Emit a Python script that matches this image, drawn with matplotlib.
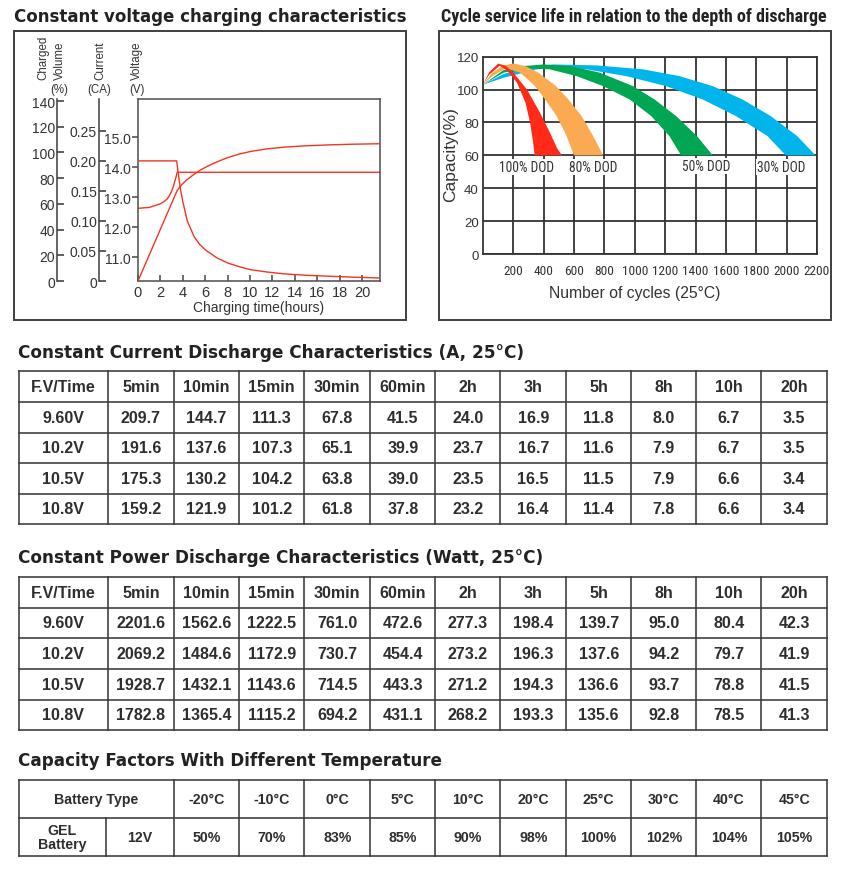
import numpy as np
import matplotlib
matplotlib.use("Agg")
import matplotlib.pyplot as plt
from matplotlib.patches import Rectangle
from matplotlib import font_manager

# ---------------- data ----------------
# Constant voltage charging characteristics
t_voltage = [0, 1.0, 2.0, 2.3, 2.6, 2.8, 3.0, 3.15, 3.3, 3.4, 3.5, 21.6]
charge_voltage = [12.63, 12.66, 12.78, 12.85, 12.94, 13.05, 13.2, 13.35, 13.55, 13.68, 13.83, 13.83]

t_current = [0, 3.45, 3.6, 3.8, 4.0, 4.4, 5.0, 5.5, 6.0, 7.0, 8.0, 9.0, 10.0, 11.5, 13.0, 15.0, 17.0, 19.0, 21.6]
charge_current = [0.20, 0.20, 0.178, 0.152, 0.132, 0.100, 0.074, 0.061, 0.052, 0.039, 0.030, 0.024,
                  0.019, 0.015, 0.012, 0.0095, 0.008, 0.0065, 0.005]

t_volume = [0, 3.5, 3.9, 4.4, 5.0, 5.6, 6.3, 7.0, 8.0, 9.0, 10.0, 11.5, 13.0, 15.0, 17.0, 19.0, 21.6]
charged_volume = [0, 70.5, 75, 79, 83, 86.5, 89.7, 92.5, 96, 98.7, 100.7, 102.8, 104.1, 105.2, 105.9, 106.4, 106.8]

hour_ticks = list(range(0, 21, 2))
volt_ticks = [11.0, 12.0, 13.0, 14.0, 15.0]
curr_ticks = [0, 0.05, 0.10, 0.15, 0.20, 0.25]
vol_ticks = [0, 20, 40, 60, 80, 100, 120, 140]
conditions = ["1. Discharge:100%", "2. Charge voltage:2.30V/cell",
              "3. Charge current:0.20CA", "4. Temperature:25\u2103"]

# Cycle life vs depth of discharge (bands: outer edge and inner edge)
red_outer_cycles = [0, 40, 100, 150, 200, 290, 375, 440, 490, 520]
red_outer_cap = [103, 110.5, 115.8, 114.5, 110.3, 100, 86, 74, 64, 60]
red_inner_cycles = [0, 40, 110, 160, 225, 280, 310, 330, 340]
red_inner_cap = [103, 109, 114.5, 111.5, 104, 92, 80, 68, 60]

orange_outer_cycles = [0, 60, 130, 200, 278, 365, 481, 562, 649, 726, 791]
orange_outer_cap = [103, 110, 114.5, 115.9, 114.3, 110.3, 102.1, 94, 83.9, 71.7, 60]
orange_inner_cycles = [0, 60, 150, 245, 343, 409, 485, 551, 599]
orange_inner_cap = [103, 108, 113, 110.3, 102.1, 94, 83.9, 71.7, 60]

green_outer_cycles = [0, 136, 267, 398, 573, 769, 988, 1130, 1272, 1410, 1513]
green_outer_cap = [103, 111.9, 114.3, 115.3, 114.3, 110.3, 102.1, 94, 83.9, 71.7, 60]
green_inner_cycles = [0, 136, 289, 441, 616, 791, 966, 1108, 1228, 1305]
green_inner_cap = [103, 110.3, 112.9, 112.3, 108.2, 102.1, 94, 83.9, 71.7, 60]

blue_outer_cycles = [0, 136, 300, 463, 748, 1054, 1294, 1513, 1709, 1895, 2070, 2190]
blue_outer_cap = [103, 109.5, 113.5, 115.3, 114.7, 112.3, 108.2, 102.1, 94, 83.9, 71.7, 60]
blue_inner_cycles = [0, 136, 354, 463, 682, 944, 1206, 1447, 1666, 1874, 1994]
blue_inner_cap = [103, 107.2, 112.3, 113.3, 112.3, 108.2, 102.1, 94, 83.9, 71.7, 60]

dod_labels = ["100% DOD", "80% DOD", "50% DOD", "30% DOD"]
dod_label_cycles = [289, 726, 1469, 1961]
dod_label_cap = [52.8, 52.8, 53.4, 52.8]
cycle_ticks = list(range(200, 2201, 200))
capacity_ticks = list(range(0, 121, 20))

# Tables
time_headers = ["F.V/Time", "5min", "10min", "15min", "30min", "60min", "2h", "3h", "5h", "8h", "10h", "20h"]
final_voltages = ["9.60V", "10.2V", "10.5V", "10.8V"]
current_9v60 = [209.7, 144.7, 111.3, 67.8, 41.5, 24.0, 16.9, 11.8, 8.0, 6.7, 3.5]
current_10v2 = [191.6, 137.6, 107.3, 65.1, 39.9, 23.7, 16.7, 11.6, 7.9, 6.7, 3.5]
current_10v5 = [175.3, 130.2, 104.2, 63.8, 39.0, 23.5, 16.5, 11.5, 7.9, 6.6, 3.4]
current_10v8 = [159.2, 121.9, 101.2, 61.8, 37.8, 23.2, 16.4, 11.4, 7.8, 6.6, 3.4]
power_9v60 = [2201.6, 1562.6, 1222.5, 761.0, 472.6, 277.3, 198.4, 139.7, 95.0, 80.4, 42.3]
power_10v2 = [2069.2, 1484.6, 1172.9, 730.7, 454.4, 273.2, 196.3, 137.6, 94.2, 79.7, 41.9]
power_10v5 = [1928.7, 1432.1, 1143.6, 714.5, 443.3, 271.2, 194.3, 136.6, 93.7, 78.8, 41.5]
power_10v8 = [1782.8, 1365.4, 1115.2, 694.2, 431.1, 268.2, 193.3, 135.6, 92.8, 78.5, 41.3]
temperatures = [-20, -10, 0, 5, 10, 20, 25, 30, 40, 45]
capacity_factors = [50, 70, 83, 85, 90, 98, 100, 102, 104, 105]

# ---------------- figure ----------------
W, H = 845, 870
fig = plt.figure(figsize=(W / 100, H / 100), dpi=100)
SANS = ["Liberation Sans", "DejaVu Sans"]
HEAVY = ["DejaVu Sans"]
installed = {f.name for f in font_manager.fontManager.ttflist}
narrow_found = [n for n in ["Liberation Sans Narrow", "Roboto Condensed", "Open Sans Condensed",
                            "DejaVu Sans Condensed"] if n in installed]
NARROW = narrow_found[:1] + ["Liberation Sans", "DejaVu Sans"]
RED = "#F53420"
DARK = "#333333"
PX = 72 / 100  # points per pixel


def frect(x0, y0, x1, y1):
    return [x0 / W, 1 - y1 / H, (x1 - x0) / W, (y1 - y0) / H]


ov = fig.add_axes([0, 0, 1, 1])
ov.set_xlim(0, W)
ov.set_ylim(H, 0)
ov.axis("off")

renderer = fig.canvas.get_renderer()


def text_width(s, **kw):
    t = ov.text(0, 0, s, **kw)
    w = t.get_window_extent(renderer).width
    t.remove()
    return w


def fit_size(s, width, base=10, **kw):
    return base * width / text_width(s, fontsize=base, **kw)


def fit_text(x, y, s, width, **kw):
    t = ov.text(x, y, s, **kw)
    bb = t.get_window_extent(renderer)
    t.set_fontsize(t.get_fontsize() * width / bb.width)
    return t


# titles
fit_text(14, 17, "Constant voltage charging characteristics", 392, family=HEAVY,
         weight="bold", fontsize=11, va="center", color="#222222")
fit_text(441, 17.5, "Cycle service life in relation to the depth of discharge", 386,
         family=NARROW, weight="bold", fontsize=11, va="center", color="#222222")

# frames
for x0, x1 in [(14, 406), (439, 831)]:
    ov.add_patch(Rectangle((x0, 32), x1 - x0, 289, fill=False, ec="#444444", lw=2 * PX))

# ---------- left chart ----------
axv = fig.add_axes(frect(138, 100, 380, 282))
axv.set_xlim(0, 21.6)
axv.set_ylim(10.21, 16.27)
for sp in axv.spines.values():
    sp.set_color("#555555")
    sp.set_linewidth(1.6 * PX)
axv.set_xticks(hour_ticks)
axv.set_xticklabels([str(h) for h in hour_ticks], family=SANS, fontsize=10.5, color=DARK)
axv.set_yticks(volt_ticks)
axv.set_yticklabels([f"{v:.1f}" for v in volt_ticks], family=SANS, fontsize=10, color=DARK)
axv.tick_params(axis="x", direction="in", length=4, width=1.2, color="#555555", pad=3)
axv.tick_params(axis="y", direction="out", length=4, width=1.2, color="#555555", pad=1)
axv.plot(t_voltage, charge_voltage, color=RED, lw=1.0)

axc = axv.twinx()
axc.set_ylim(0, 0.303)
for k in ["right", "top", "bottom"]:
    axc.spines[k].set_visible(False)
axc.spines["left"].set_position(("axes", (99 - 138) / 242))
axc.spines["left"].set_color("#444444")
axc.spines["left"].set_linewidth(1.6 * PX)
axc.yaxis.set_ticks_position("left")
axc.set_yticks(curr_ticks)
axc.set_yticklabels(["0" if c == 0 else f"{c:.2f}" for c in curr_ticks], family=SANS, fontsize=10, color=DARK)
axc.tick_params(axis="y", direction="in", length=5, width=1.2, color="#444444", pad=1.5)
axc.plot(t_current, charge_current, color=RED, lw=1.0)

axp = axv.twinx()
axp.set_ylim(0, 141.6)
for k in ["right", "top", "bottom"]:
    axp.spines[k].set_visible(False)
axp.spines["left"].set_position(("axes", (57 - 138) / 242))
axp.spines["left"].set_color("#444444")
axp.spines["left"].set_linewidth(1.6 * PX)
axp.yaxis.set_ticks_position("left")
axp.set_yticks(vol_ticks)
axp.set_yticklabels([str(v) for v in vol_ticks], family=SANS, fontsize=10, color=DARK)
axp.tick_params(axis="y", direction="in", length=5, width=1.2, color="#444444", pad=1.5)
axp.plot(t_volume, charged_volume, color=RED, lw=1.0)

for x, s in [(43.3, "Charged"), (60, "Volume"), (100, "Current"), (136.7, "Voltage")]:
    ov.text(x, 80, s, rotation=90, ha="center", va="bottom", family=SANS, fontsize=8.3, color=DARK)
for x, s in [(59, "(%)"), (99, "(CA)"), (136.5, "(V)")]:
    ov.text(x, 90.5, s, ha="center", va="center", family=SANS, fontsize=8.3, color=DARK)
for i, s in enumerate(conditions):
    ov.text(153, 110.7 + i * 11.3, s, ha="left", va="center", family=SANS,
            weight="bold", fontsize=6.6, color="#222222")
ov.text(377, 138.5, "Charged Volume", ha="right", va="center", family=SANS, fontsize=10, color=DARK)
ov.text(377, 164.5, "Charge Voltage", ha="right", va="center", family=SANS, fontsize=10, color=DARK)
ov.text(377, 264.5, "Charging Current", ha="right", va="center", family=SANS, fontsize=10, color=DARK)
ov.text(259, 308, "Charging time(hours)", ha="center", va="center", family=SANS, fontsize=10, color=DARK)

# ---------- right chart ----------
axr = fig.add_axes(frect(483, 57.7, 817, 255))
axr.set_xlim(0, 2200)
axr.set_ylim(0, 120)
axr.set_axisbelow(True)
xtick_fs = fit_size("1000", 26, family=NARROW)
dod_fs = fit_size("100% DOD", 55, family=NARROW)
axr.set_xticks(cycle_ticks)
axr.set_xticklabels([str(c) for c in cycle_ticks], family=NARROW, fontsize=xtick_fs, color=DARK)
axr.set_yticks(capacity_ticks)
axr.set_yticklabels([str(c) for c in capacity_ticks], family=SANS, fontsize=9.5, color=DARK)
axr.tick_params(length=0)
axr.tick_params(axis="x", pad=7)
axr.tick_params(axis="y", pad=3)
axr.grid(True, color="#333333", lw=1.8 * PX)
for sp in axr.spines.values():
    sp.set_color("#333333")
    sp.set_linewidth(1.8 * PX)

bands = [
    (blue_outer_cycles, blue_outer_cap, blue_inner_cycles, blue_inner_cap, "#00B4EC"),
    (green_outer_cycles, green_outer_cap, green_inner_cycles, green_inner_cap, "#00A651"),
    (orange_outer_cycles, orange_outer_cap, orange_inner_cycles, orange_inner_cap, "#FBAA52"),
    (red_outer_cycles, red_outer_cap, red_inner_cycles, red_inner_cap, "#FF2A17"),
]
for oc, ocap, ic, icap, col in bands:
    xs = list(oc) + list(ic)[::-1]
    ys = list(ocap) + list(icap)[::-1]
    axr.fill(xs, ys, color=col, lw=0, zorder=2)

for s, cx, cy in zip(dod_labels, dod_label_cycles, dod_label_cap):
    axr.text(cx, cy, s, ha="center", va="center", family=NARROW, fontsize=dod_fs, color=DARK,
             zorder=3, bbox=dict(facecolor="white", edgecolor="none", pad=0.6))

ov.text(451, 155, "Capacity(%)", rotation=90, ha="center", va="center", family=SANS,
        fontsize=12.5, color=DARK)
ov.text(635, 294, "Number of cycles (25\u00b0C)", ha="center", va="center", family=SANS,
        fontsize=11.3, color=DARK)

# ---------- tables ----------
col_edges = [18.7, 108, 174, 239, 304.5, 370, 435.5, 500.5, 566, 631.5, 696.5, 761.5, 827]
t1_rows = [372, 403, 433.5, 464, 495, 525]
t2_rows = [578, 608.5, 639, 670, 701, 731]
t3_rows = [781, 819, 857]
LINE = dict(color="#3a3a3a", lw=1.6 * PX, solid_capstyle="projecting")
CELL = dict(ha="center", va="center", family=SANS, weight="bold", color="#2e2e2e")


def grid_lines(xs, ys):
    for x in xs:
        ov.plot([x, x], [ys[0], ys[-1]], **LINE)
    for y in ys:
        ov.plot([xs[0], xs[-1]], [y, y], **LINE)


def value_table(rows_y, values):
    grid_lines(col_edges, rows_y)
    centers = [(a + b) / 2 for a, b in zip(col_edges[:-1], col_edges[1:])]
    ymid = [(a + b) / 2 for a, b in zip(rows_y[:-1], rows_y[1:])]
    for cx, s in zip(centers, time_headers):
        ov.text(cx, ymid[0], s, fontsize=11.5, **CELL)
    for r, (fv, vals) in enumerate(zip(final_voltages, values)):
        ov.text(centers[0], ymid[r + 1], fv, fontsize=11.5, **CELL)
        for cx, v in zip(centers[1:], vals):
            ov.text(cx, ymid[r + 1], f"{v:.1f}", fontsize=11.5, **CELL)


fit_text(18, 353.3, "Constant Current Discharge Characteristics (A, 25\u00b0C)", 504,
         family=HEAVY, weight="bold", fontsize=11, va="center", color="#222222")
value_table(t1_rows, [current_9v60, current_10v2, current_10v5, current_10v8])

fit_text(18, 558.5, "Constant Power Discharge Characteristics (Watt, 25\u00b0C)", 522,
         family=HEAVY, weight="bold", fontsize=11, va="center", color="#222222")
value_table(t2_rows, [power_9v60, power_10v2, power_10v5, power_10v8])

fit_text(18, 761.5, "Capacity Factors With Different Temperature", 423,
         family=HEAVY, weight="bold", fontsize=11, va="center", color="#222222")
for x in [18.7] + col_edges[2:]:
    ov.plot([x, x], [t3_rows[0], t3_rows[-1]], **LINE)
ov.plot([106, 106], [t3_rows[1], t3_rows[2]], **LINE)
for y in t3_rows:
    ov.plot([18.7, 827], [y, y], **LINE)
tcent = [(a + b) / 2 for a, b in zip(col_edges[2:-1], col_edges[3:])]
ym0 = (t3_rows[0] + t3_rows[1]) / 2
ym1 = (t3_rows[1] + t3_rows[2]) / 2
ov.text((18.7 + 174) / 2, ym0, "Battery Type", fontsize=10.2, **CELL)
for cx, tval, f in zip(tcent, temperatures, capacity_factors):
    ov.text(cx, ym0, f"{tval}\u00b0C", fontsize=10.2, **CELL)
    ov.text(cx, ym1, f"{f}%", fontsize=10.2, **CELL)
ov.text((18.7 + 106) / 2, ym1, "GEL\nBattery", fontsize=10.2, linespacing=1.0, **CELL)
ov.text((106 + 174) / 2, ym1, "12V", fontsize=10.2, **CELL)

fig.savefig("out.png", dpi=100, facecolor="white")
